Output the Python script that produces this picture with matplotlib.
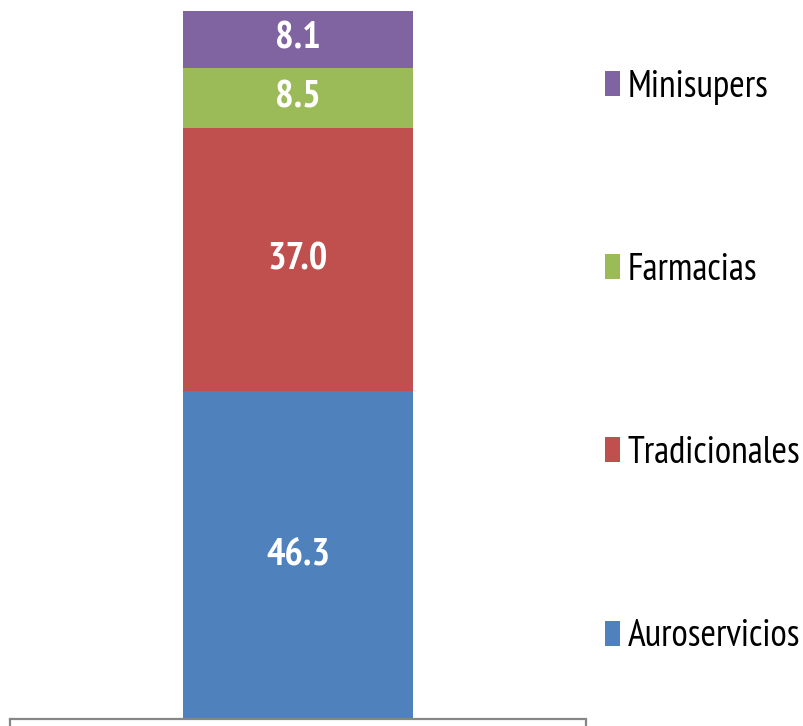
import matplotlib.pyplot as plt
from matplotlib.patches import Patch

categories = ['Auroservicios', 'Tradicionales', 'Farmacias', 'Minisupers']
values = [46.3, 37.0, 8.5, 8.1]
colors = ['#4F81BD', '#C0504D', '#9BBB59', '#8064A2']

plt.rcParams['font.family'] = ['PT Sans Narrow', 'Roboto Condensed', 'DejaVu Sans']

fig = plt.figure(figsize=(8.04, 7.26), dpi=100)
ax = fig.add_axes([10 / 804, 7 / 726, 576 / 804, 709 / 726])

bottom = 0
for cat, val, col in zip(categories, values, colors):
    ax.bar(0, val, width=0.4, bottom=bottom, color=col, label=cat)
    ax.text(0, bottom + val / 2, f'{val:.1f}', ha='center', va='center',
            color='white', fontsize=28, fontweight='bold')
    bottom += val

ax.set_xlim(-0.5, 0.5)
ax.set_ylim(0, 100)
for side in ['top', 'left', 'right']:
    ax.spines[side].set_visible(False)
ax.spines['bottom'].set_color('#868686')
ax.spines['bottom'].set_linewidth(1.6)
ax.set_yticks([])
ax.set_xticks([-0.5, 0.5])
ax.set_xticklabels([])
ax.tick_params(axis='x', direction='out', length=5, width=1.6, color='#868686')

handles = [Patch(facecolor=c) for c in colors][::-1]
labels = categories[::-1]
fig.legend(handles, labels, loc='center left', bbox_to_anchor=(590 / 804, 364 / 726),
           frameon=False, fontsize=27, handlelength=0.4, handleheight=0.65,
           handletextpad=0.2, labelspacing=3.95, borderaxespad=0)

fig.savefig('out.png', dpi=100)
